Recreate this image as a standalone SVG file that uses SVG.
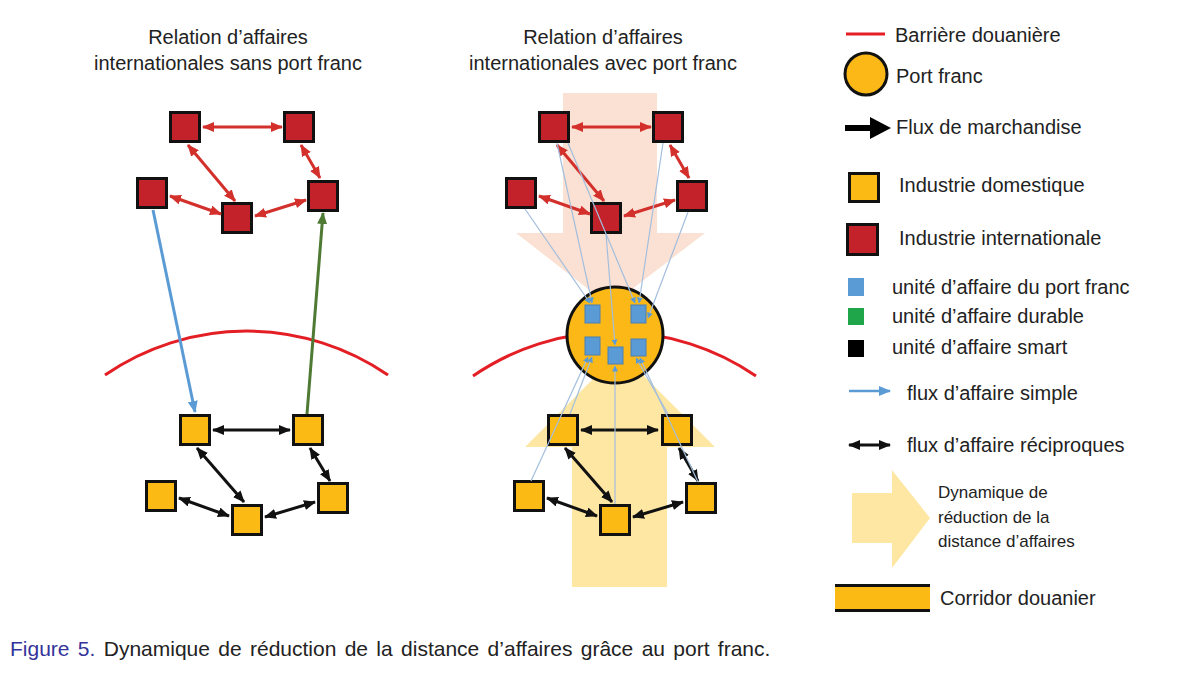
<svg xmlns="http://www.w3.org/2000/svg" width="1200" height="675" viewBox="0 0 1200 675">
<style>
text{font-family:"Liberation Sans",Arial,sans-serif;fill:#222}
.t{font-size:20px}
.s{font-size:17px}
.red{fill:#C4222B;stroke:#111;stroke-width:3}
.yel{fill:#FCBA15;stroke:#111;stroke-width:3}
.ra{stroke:#D3302C;stroke-width:3;fill:none;marker-start:url(#mr);marker-end:url(#mr)}
.ba{stroke:#111;stroke-width:3;fill:none;marker-start:url(#mb);marker-end:url(#mb)}
.bar{stroke:#E31E24;stroke-width:3;fill:none}
.thin{stroke:#A3BEDD;stroke-width:1.2;fill:none}
.thinA{stroke:#A3BEDD;stroke-width:1.2;fill:none;marker-end:url(#mu)}
.unit{fill:#5B9BD5;stroke:#4A7FB5;stroke-width:1}
</style>
<defs>
<marker id="mr" viewBox="0 0 12 10" markerWidth="12" markerHeight="10" refX="11" refY="5" orient="auto-start-reverse" markerUnits="userSpaceOnUse"><path d="M0,0 L12,5 L0,10 z" fill="#D3302C"/></marker>
<marker id="mb" viewBox="0 0 12 10" markerWidth="12" markerHeight="10" refX="11" refY="5" orient="auto-start-reverse" markerUnits="userSpaceOnUse"><path d="M0,0 L12,5 L0,10 z" fill="#111"/></marker>
<marker id="mbl" viewBox="0 0 12 10" markerWidth="12" markerHeight="10" refX="11" refY="5" orient="auto" markerUnits="userSpaceOnUse"><path d="M0,0 L12,5 L0,10 z" fill="#5B9BD5"/></marker>
<marker id="mg" viewBox="0 0 12 10" markerWidth="12" markerHeight="10" refX="11" refY="5" orient="auto" markerUnits="userSpaceOnUse"><path d="M0,0 L12,5 L0,10 z" fill="#4E7A34"/></marker>
<marker id="mu" viewBox="0 0 6 6" markerWidth="6" markerHeight="6" refX="5.5" refY="3" orient="auto" markerUnits="userSpaceOnUse"><path d="M0,0 L6,3 L0,6 z" fill="#5B9BD5"/></marker>
</defs>
<rect width="1200" height="675" fill="#fff"/>

<!-- titles -->
<g id="titles">
<text class="t" x="228" y="44" text-anchor="middle">Relation d’affaires</text>
<text class="t" x="228" y="70" text-anchor="middle">internationales sans port franc</text>
<text class="t" x="603" y="44" text-anchor="middle">Relation d’affaires</text>
<text class="t" x="603" y="70" text-anchor="middle">internationales avec port franc</text>
</g>

<!-- background dynamics arrows -->
<g id="dynamics">
<polygon points="563,93 657,93 657,233 705,233 610,306 516,233 563,233" fill="#FBE1D3"/>
<polygon points="572,587 667,587 667,447 715,447 620,352 525,447 572,447" fill="#FEE7A2"/>
</g>

<!-- customs barriers -->
<g id="barriers">
<path class="bar" d="M105,375 A250,250 0 0 1 388,375"/>
<path class="bar" d="M473,376 A250,250 0 0 1 756,376"/>
</g>

<!-- port franc -->
<g id="port-franc">
<circle cx="615" cy="335" r="48" fill="#FBB817" stroke="#111" stroke-width="3"/>
</g>

<!-- left diagram nodes -->
<g id="L-int-A"><rect class="red" x="170.5" y="112.5" width="29" height="29"/></g>
<g id="L-int-B"><rect class="red" x="284.5" y="112.5" width="29" height="29"/></g>
<g id="L-int-C"><rect class="red" x="137.5" y="178.5" width="29" height="29"/></g>
<g id="L-int-D"><rect class="red" x="222.5" y="203.5" width="29" height="29"/></g>
<g id="L-int-E"><rect class="red" x="308.5" y="181.5" width="29" height="29"/></g>
<g id="L-dom-F"><rect class="yel" x="180.5" y="415.5" width="29" height="29"/></g>
<g id="L-dom-G"><rect class="yel" x="293.5" y="415.5" width="29" height="29"/></g>
<g id="L-dom-H"><rect class="yel" x="146.5" y="481.5" width="29" height="29"/></g>
<g id="L-dom-I"><rect class="yel" x="232.5" y="505.5" width="29" height="29"/></g>
<g id="L-dom-J"><rect class="yel" x="318.5" y="483.5" width="29" height="29"/></g>

<!-- middle diagram nodes -->
<g id="M-int-A"><rect class="red" x="539.5" y="112.5" width="29" height="29"/></g>
<g id="M-int-B"><rect class="red" x="653.5" y="112.5" width="29" height="29"/></g>
<g id="M-int-C"><rect class="red" x="506.5" y="178.5" width="29" height="29"/></g>
<g id="M-int-D"><rect class="red" x="591.5" y="203.5" width="29" height="29"/></g>
<g id="M-int-E"><rect class="red" x="677.5" y="181.5" width="29" height="29"/></g>
<g id="M-dom-F"><rect class="yel" x="548.5" y="415.5" width="29" height="29"/></g>
<g id="M-dom-G"><rect class="yel" x="662.5" y="415.5" width="29" height="29"/></g>
<g id="M-dom-H"><rect class="yel" x="514.5" y="481.5" width="29" height="29"/></g>
<g id="M-dom-I"><rect class="yel" x="600.5" y="505.5" width="29" height="29"/></g>
<g id="M-dom-J"><rect class="yel" x="686.5" y="483.5" width="29" height="29"/></g>

<!-- connectors -->
<g id="connectors">
<!-- left red -->
<line class="ra" x1="203" y1="127" x2="282" y2="127"/>
<line class="ra" x1="188" y1="145" x2="235" y2="201"/>
<line class="ra" x1="301" y1="145" x2="320" y2="178"/>
<line class="ra" x1="170" y1="196" x2="221" y2="214"/>
<line class="ra" x1="255" y1="216" x2="306" y2="200"/>
<!-- left black -->
<line class="ba" x1="213" y1="430" x2="290" y2="430"/>
<line class="ba" x1="197" y1="448" x2="244" y2="502"/>
<line class="ba" x1="310" y1="448" x2="330" y2="481"/>
<line class="ba" x1="179" y1="498" x2="229" y2="516"/>
<line class="ba" x1="265" y1="517" x2="315" y2="502"/>
<!-- left cross-border flows -->
<line x1="153" y1="210" x2="195" y2="412" stroke="#5B9BD5" stroke-width="3" marker-end="url(#mbl)"/>
<line x1="307" y1="414" x2="323" y2="213" stroke="#4E7A34" stroke-width="3" marker-end="url(#mg)"/>
<!-- middle red -->
<line class="ra" x1="572" y1="127" x2="651" y2="127"/>
<line class="ra" x1="557" y1="145" x2="604" y2="201"/>
<line class="ra" x1="670" y1="145" x2="689" y2="178"/>
<line class="ra" x1="539" y1="196" x2="590" y2="214"/>
<line class="ra" x1="624" y1="216" x2="675" y2="200"/>
<!-- middle black -->
<line class="ba" x1="581" y1="430" x2="658" y2="430"/>
<line class="ba" x1="565" y1="448" x2="612" y2="502"/>
<line class="ba" x1="679" y1="448" x2="698" y2="481"/>
<line class="ba" x1="547" y1="498" x2="597" y2="516"/>
<line class="ba" x1="633" y1="517" x2="683" y2="502"/>
<!-- thin flows via port franc -->
<line class="thinA" x1="525" y1="209" x2="590" y2="303"/>
<line class="thinA" x1="557" y1="143" x2="592" y2="303"/>
<line class="thinA" x1="568" y1="143" x2="635" y2="303"/>
<line class="thinA" x1="663" y1="143" x2="639" y2="303"/>
<line class="thinA" x1="688" y1="212" x2="648" y2="318"/>
<line class="thinA" x1="606" y1="234" x2="615" y2="345"/>
<line class="thinA" x1="531" y1="481" x2="588" y2="357"/>
<line class="thinA" x1="570" y1="414" x2="592" y2="357"/>
<line class="thinA" x1="615" y1="504" x2="615" y2="366"/>
<line class="thinA" x1="668" y1="414" x2="636" y2="358"/>
<line class="thinA" x1="698" y1="482" x2="640" y2="358"/>
</g>

<!-- port franc business units -->
<g id="unit-TL"><rect class="unit" x="585" y="305" width="15" height="18"/></g>
<g id="unit-TR"><rect class="unit" x="631" y="305" width="15" height="18"/></g>
<g id="unit-ML"><rect class="unit" x="585" y="337" width="15" height="18"/></g>
<g id="unit-MC"><rect class="unit" x="608" y="347" width="15" height="17"/></g>
<g id="unit-MR"><rect class="unit" x="631" y="339" width="15" height="17"/></g>

<!-- legend -->
<g id="legend">
<line x1="846" y1="34" x2="885" y2="34" stroke="#E31E24" stroke-width="3"/>
<text class="t" x="895" y="42">Barrière douanière</text>
<circle cx="866" cy="74" r="21" fill="#FBB817" stroke="#111" stroke-width="3"/>
<text class="t" x="896" y="83">Port franc</text>
<polygon points="845,125 870,125 870,117 891,128 870,139 870,131 845,131" fill="#000"/>
<text class="t" x="896" y="134">Flux de marchandise</text>
<rect class="yel" x="849.5" y="173.5" width="29" height="28"/>
<text class="t" x="899" y="192">Industrie domestique</text>
<rect class="red" x="847.5" y="224.5" width="30" height="30"/>
<text class="t" x="899" y="245">Industrie internationale</text>
<rect x="848" y="278" width="16" height="18" fill="#5B9BD5"/>
<text class="t" x="892" y="294">unité d’affaire du port franc</text>
<rect x="848" y="308" width="16" height="17" fill="#1FA64A"/>
<text class="t" x="892" y="323">unité d’affaire durable</text>
<rect x="848" y="340" width="16" height="17" fill="#000"/>
<text class="t" x="892" y="354">unité d’affaire smart</text>
<line x1="849" y1="391" x2="890" y2="391" stroke="#5B9BD5" stroke-width="2.5" marker-end="url(#mbl)"/>
<text class="t" x="907" y="400">flux d’affaire simple</text>
<line x1="849" y1="445" x2="890" y2="445" stroke="#111" stroke-width="3" marker-start="url(#mb)" marker-end="url(#mb)"/>
<text class="t" x="907" y="452">flux d’affaire réciproques</text>
<polygon points="852,493 892,493 892,470 930,518 892,568 892,543 852,543" fill="#FEE7A2"/>
<text class="s" x="938" y="498">Dynamique de</text>
<text class="s" x="938" y="523">réduction de la</text>
<text class="s" x="938" y="547">distance d’affaires</text>
<rect x="835" y="585" width="95" height="26" fill="#FCBA15"/>
<line x1="835" y1="585.5" x2="930" y2="585.5" stroke="#111" stroke-width="3"/>
<line x1="835" y1="610.5" x2="930" y2="610.5" stroke="#111" stroke-width="3"/>
<text class="t" x="940" y="605">Corridor douanier</text>
</g>

<!-- caption -->
<text x="10" y="656" font-size="21" word-spacing="2.5"><tspan fill="#34349A">Figure 5.</tspan> Dynamique de réduction de la distance d’affaires grâce au port franc.</text>
</svg>
